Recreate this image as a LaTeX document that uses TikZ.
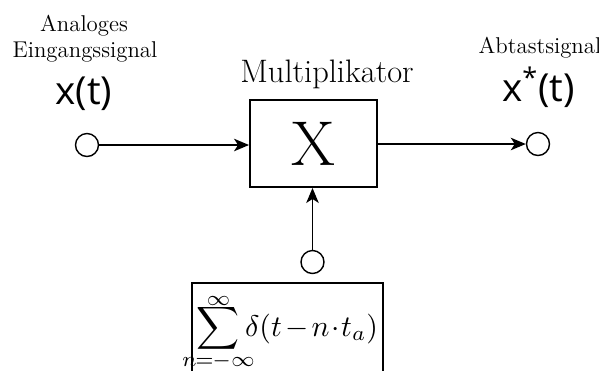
\documentclass[tikz,border=0pt]{standalone}
\usepackage{fontspec}
\newfontfamily\sigfont{Open Sans}
\usetikzlibrary{arrows.meta}

\begin{document}
\begin{tikzpicture}[x=0.02cm,y=-0.02cm,
  port/.style={draw,thick,circle,minimum size=0.46cm,inner sep=0pt},
  blockbox/.style={draw,line width=1.1pt,inner sep=0pt},
  lbl/.style={anchor=base,inner sep=0pt,font=\fontsize{13}{15}\selectfont},
  sig/.style={anchor=base,inner sep=0pt,font=\fontsize{22}{25}\sigfont},
  flow/.style={thick,-{Stealth[length=3mm,width=2.5mm,inset=0.8mm]}}]
\clip (0,0) rectangle (599,370);
\node[port] (xin) at (87,145) {};
\node[port] (xout) at (538,144) {};
\node[port] (pulse) at (312.5,262) {};
\node[blockbox,minimum width=2.54cm,minimum height=1.74cm,font=\fontsize{36}{40}\selectfont] (mult) at (313.5,143.5) {X};
\node[blockbox,minimum width=3.82cm,text height=1.06cm,text depth=0.98cm,anchor=base] (comb) at (287.5,336) {\scalebox{1.7}{$\displaystyle\sum_{\smash{\raisebox{1.3pt}{\makebox[0pt]{$\scriptstyle n\mskip-1mu=\mskip-1mu-\infty$}}}}^{\smash{\raisebox{-2.2pt}{$\scriptstyle\infty$}}}\delta(t\mskip2mu{-}\mskip2mu n\mskip1mu{\cdot}\mskip1mu t_a)$}};
\node[lbl] (an) at (84,31) {Analoges};
\node[lbl] (ein) at (85,57) {Eingangssignal};
\node[lbl] (abt) at (540,53) {Abtastsignal};
\node[lbl,font=\fontsize{18.5}{21}\selectfont] (multlbl) at (327,82) {Multiplikator};
\node[sig] (xt) at (84,104) {x(t)};
\node[sig] (xst) at (538.5,101) {x\textsuperscript{*}(t)};
\draw[flow] (xin.east) -- (xin.east -| mult.west);
\draw[flow] (mult.east |- xout.west) -- (xout.west);
\draw[flow] (pulse.north) -- (pulse.north |- mult.south);
\end{tikzpicture}
\end{document}
